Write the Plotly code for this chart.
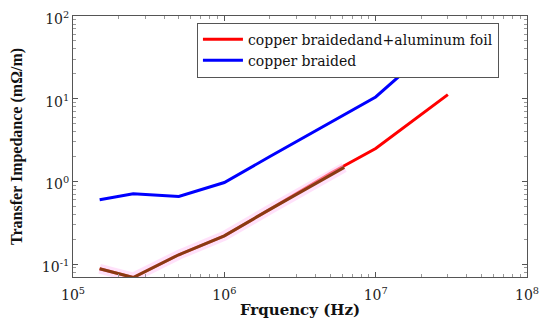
import plotly.graph_objects as go

# Data
freq_foil = [1.5e5, 2.5e5, 5e5, 1e6, 2e6, 5e6, 1e7, 2e7, 3e7]
z_foil = [0.088, 0.069, 0.13, 0.22, 0.46, 1.25, 2.5, 6.5, 11.2]

freq_braid = [1.5e5, 2.5e5, 5e5, 1e6, 2e6, 5e6, 1e7, 2e7, 3e7]
z_braid = [0.6, 0.71, 0.66, 0.97, 2.0, 5.1, 10.5, 32, 60]

freq_overlay = [1.5e5, 2.5e5, 5e5, 1e6, 2e6, 4e6, 6.2e6]
z_overlay = [0.088, 0.069, 0.13, 0.22, 0.46, 0.95, 1.48]

x_ticks = [1e5, 1e6, 1e7, 1e8]
x_ticktext = ["10<sup>5</sup>", "10<sup>6</sup>", "10<sup>7</sup>", "10<sup>8</sup>"]
y_ticks = [0.1, 1, 10, 100]
y_ticktext = ["10<sup>-1</sup>", "10<sup>0</sup>", "10<sup>1</sup>", "10<sup>2</sup>"]

x_minor = [m * 10 ** e for e in range(5, 8) for m in range(2, 10)]
y_minor = [m * 10 ** e for e in range(-2, 2) for m in range(2, 10)]

serif_wide = "DejaVu Serif"
serif = "Liberation Serif"

fig = go.Figure()
fig.add_trace(go.Scatter(x=freq_foil, y=z_foil, mode="lines",
                         line=dict(color="#ff0000", width=3),
                         name="copper braidedand+aluminum foil"))
fig.add_trace(go.Scatter(x=freq_overlay, y=z_overlay, mode="lines",
                         line=dict(color="rgba(255,200,245,0.55)", width=10),
                         showlegend=False, hoverinfo="skip"))
fig.add_trace(go.Scatter(x=freq_overlay, y=z_overlay, mode="lines",
                         line=dict(color="#8a3a12", width=3),
                         showlegend=False))
fig.add_trace(go.Scatter(x=freq_braid, y=z_braid, mode="lines",
                         line=dict(color="#0000ff", width=3),
                         name="copper braided"))

axis_common = dict(
    type="log", showgrid=False, zeroline=False, automargin=False,
    showline=True, linecolor="#555555", linewidth=1, mirror="allticks",
    ticks="inside", ticklen=5, tickcolor="#555555",
    tickmode="array", ticklabeloverflow="allow",
    tickfont=dict(family=serif_wide, size=14, color="#222222"),
)

# the page body adds an 8px offset, so margins are compensated
fig.update_layout(
    width=550, height=332,
    margin=dict(l=65, r=31, t=8, b=63),
    paper_bgcolor="white", plot_bgcolor="white",
    xaxis=dict(axis_common, range=[5, 8], tickvals=x_ticks, ticktext=x_ticktext,
               ticklabelstandoff=5,
               minor=dict(tickmode="array", tickvals=x_minor, ticks="inside",
                          ticklen=3, tickcolor="#999999", showgrid=False),
               title=dict(text="<b>Frquency (Hz)</b>",
                          font=dict(family=serif_wide, size=15, color="#111111"),
                          standoff=2)),
    yaxis=dict(axis_common, range=[-1.155, 2], tickvals=y_ticks, ticktext=y_ticktext,
               ticklabelshift=3,
               minor=dict(tickmode="array", tickvals=y_minor, ticks="inside",
                          ticklen=3, tickcolor="#999999", showgrid=False),
               title=dict(text="<b>Transfer Impedance (mΩ/m)</b>",
                          font=dict(family=serif, size=16, color="#111111"),
                          standoff=20)),
    legend=dict(x=0.273, y=0.975, xanchor="left", yanchor="top",
                bgcolor="white", bordercolor="#555555", borderwidth=1,
                font=dict(family=serif_wide, size=14, color="#111111"),
                tracegroupgap=0, itemwidth=40),
    showlegend=True,
)

fig.write_html("out.html")
